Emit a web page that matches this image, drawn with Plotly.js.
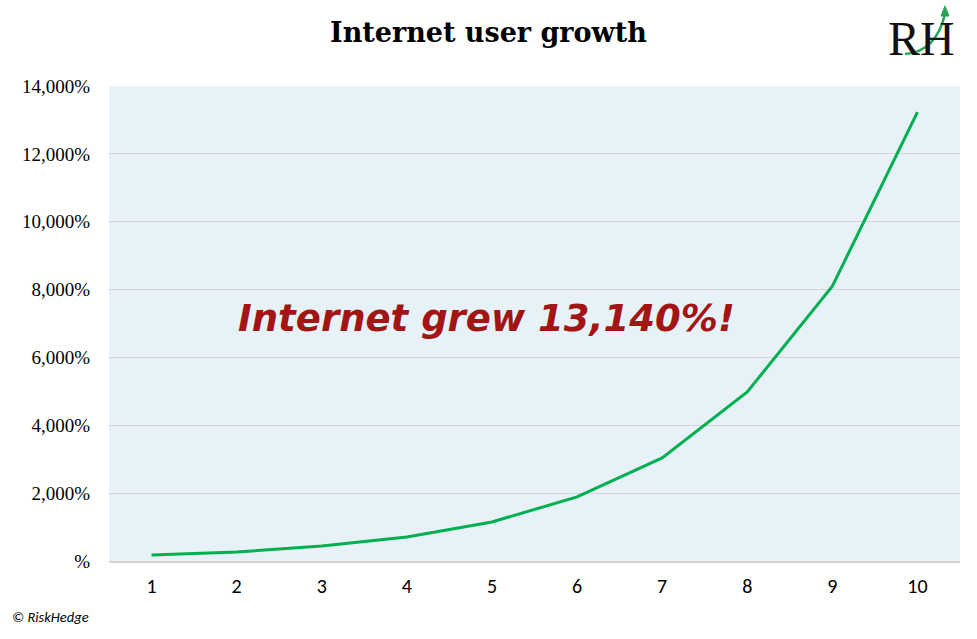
<!DOCTYPE html>
<html>
<head>
<meta charset="utf-8">
<script src="https://cdn.plot.ly/plotly-3.0.1.min.js"></script>
<style>html,body{margin:0;padding:0;background:#fff;}#chart{width:977px;height:639px;}</style>
</head>
<body>
<div id="chart"></div>
<script>
const years = [1, 2, 3, 4, 5, 6, 7, 8, 9, 10];
const growthPct = [180, 265, 440, 705, 1150, 1890, 3040, 4980, 8100, 13230];
const yTickVals = [0, 2000, 4000, 6000, 8000, 10000, 12000, 14000];
const yTickText = ['%', '2,000%', '4,000%', '6,000%', '8,000%', '10,000%', '12,000%', '14,000%'];

const W = 977, H = 639, L = 109, R = 17, T = 86, B = 78;
const pw = W - L - R, ph = H - T - B;
function px(x){return (x - L) / pw;}
function py(y){return (H - B - y) / ph;}

const trace = {
  x: years, y: growthPct, type: 'scatter', mode: 'lines',
  line: {color: '#00B050', width: 3},
  hoverinfo: 'skip'
};

const layout = {
  width: W, height: H,
  margin: {l: L, r: R, t: T, b: B},
  paper_bgcolor: '#ffffff',
  plot_bgcolor: '#E7F2F8',
  showlegend: false,
  title: {text: '<b>Internet user growth</b>', x: 0.5, xanchor: 'center', y: 1 - 33 / H, yanchor: 'middle',
          font: {family: 'DejaVu Serif, serif', size: 27, color: '#000'}},
  xaxis: {
    range: [0.5, 10.5], tickvals: years, ticktext: years.map(String),
    showgrid: false, zeroline: false, showline: true, linecolor: '#D4D4D4', linewidth: 1.5,
    ticks: '', ticklabelstandoff: 6,
    tickfont: {family: 'Carlito, Liberation Sans, sans-serif', size: 20, color: '#000'}
  },
  yaxis: {
    range: [0, 14000], tickvals: yTickVals, ticktext: yTickText,
    showgrid: true, gridcolor: '#D4D4D4', gridwidth: 1, zeroline: false, showline: false,
    ticks: '', ticklabelstandoff: 18,
    tickfont: {family: 'Liberation Serif, serif', size: 19, color: '#000'}
  },
  annotations: [
    {text: '<i><b>Internet grew 13,140%!</b></i>', x: px(236), y: py(318), xref: 'paper', yref: 'paper',
     xanchor: 'left', yanchor: 'middle', showarrow: false,
     font: {family: 'DejaVu Sans, sans-serif', size: 37, color: '#A31515'}},
    {text: '<i>© RiskHedge</i>', x: px(10), y: py(617), xref: 'paper', yref: 'paper', showarrow: false,
     xanchor: 'left', yanchor: 'middle', font: {family: 'Carlito, Liberation Sans, sans-serif', size: 14.5, color: '#000'}},
    {text: 'RH', x: px(921), y: py(38), xref: 'paper', yref: 'paper', showarrow: false,
     xanchor: 'center', yanchor: 'middle',
     font: {family: 'Liberation Serif, serif', size: 48, color: '#111'}}
  ],
  shapes: [
    {type: 'path', xref: 'paper', yref: 'paper', layer: 'above',
     path: `M ${px(905)} ${py(54)} Q ${px(936)} ${py(52)} ${px(945)} ${py(14)}`,
     line: {color: '#22A455', width: 2.5}, fillcolor: 'rgba(0,0,0,0)'},
    {type: 'path', xref: 'paper', yref: 'paper', layer: 'above',
     path: `M ${px(941)} ${py(16)} L ${px(945)} ${py(6)} L ${px(949)} ${py(16)} Z`,
     line: {color: '#22A455', width: 1}, fillcolor: '#22A455'}
  ]
};

Plotly.newPlot('chart', [trace], layout, {staticPlot: true, displayModeBar: false});
</script>
</body>
</html>
